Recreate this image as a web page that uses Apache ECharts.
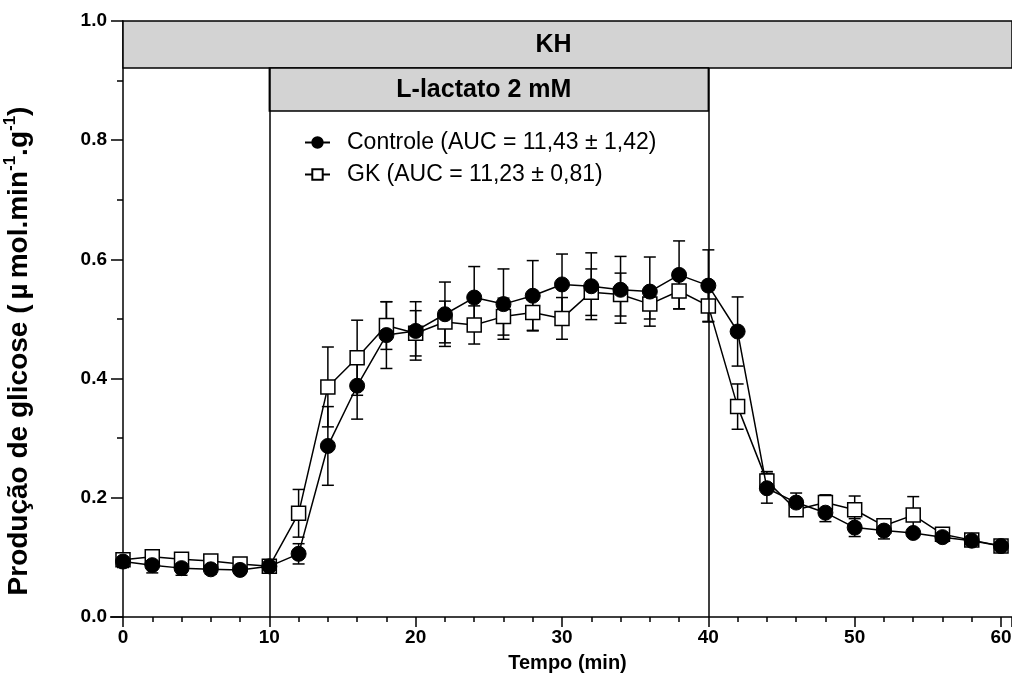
<!DOCTYPE html>
<html>
<head>
<meta charset="utf-8">
<script src="https://cdn.jsdelivr.net/npm/echarts@6/dist/echarts.min.js"></script>
<style>
  html, body { margin: 0; padding: 0; background: #fff; }
  #chart { width: 1012px; height: 691px; }
</style>
</head>
<body>
<div id="chart"></div>
<script>
var times = [0, 2, 4, 6, 8, 10, 12, 14, 16, 18, 20, 22, 24, 26, 28, 30, 32, 34, 36, 38, 40, 42, 44, 46, 48, 50, 52, 54, 56, 58, 60];
var controle = [0.093, 0.087, 0.082, 0.080, 0.079, 0.085, 0.106, 0.287, 0.388, 0.473, 0.480, 0.508, 0.536, 0.525, 0.539, 0.558,
  0.555, 0.549, 0.546, 0.574, 0.556, 0.479, 0.216, 0.192, 0.175, 0.150, 0.145, 0.141, 0.134, 0.128, 0.119];
var controleErr = [0.010, 0.013, 0.012, 0.008, 0.006, 0.008, 0.017, 0.066, 0.056, 0.056, 0.049, 0.054, 0.052, 0.059, 0.059, 0.051,
  0.056, 0.056, 0.058, 0.057, 0.060, 0.058, 0.025, 0.016, 0.015, 0.015, 0.014, 0.007, 0.008, 0.008, 0.008];
var gk = [0.096, 0.101, 0.097, 0.094, 0.089, 0.085, 0.174, 0.386, 0.435, 0.489, 0.476, 0.495, 0.490, 0.504, 0.511, 0.501,
  0.545, 0.541, 0.525, 0.547, 0.522, 0.353, 0.228, 0.180, 0.192, 0.180, 0.153, 0.171, 0.139, 0.129, 0.119];
var gkErr = [0.008, 0.008, 0.008, 0.008, 0.008, 0.006, 0.040, 0.067, 0.063, 0.040, 0.038, 0.035, 0.032, 0.031, 0.030, 0.035,
  0.039, 0.036, 0.025, 0.030, 0.027, 0.038, 0.016, 0.010, 0.013, 0.023, 0.006, 0.031, 0.008, 0.008, 0.008];

var seriesNames = ['Controle (AUC = 11,43 \u00b1 1,42)', 'GK (AUC = 11,23 \u00b1 0,81)'];

// perfusion phases (axis units)
var phaseNames = ['KH', 'L-lactato 2 mM'];
var phaseStart = [0, 10];
var phaseEnd = [60.75, 40];
var phaseTop = [1.0, 0.921];
var phaseBottom = [0.921, 0.849];

var xTicks = [0, 10, 20, 30, 40, 50, 60];
var yTicks = ['0.0', '0.2', '0.4', '0.6', '0.8', '1.0'];

var font = '"Liberation Sans", Arial, sans-serif';

function pairs(ys) {
  return times.map(function(t, i) { return [t, ys[i]]; });
}
function errRows(ys, es) {
  return times.map(function(t, i) { return [t, ys[i] - es[i], ys[i] + es[i]]; });
}

function renderErr(params, api) {
  var lo = api.coord([api.value(0), api.value(1)]);
  var hi = api.coord([api.value(0), api.value(2)]);
  var w = 6;
  var st = { stroke: '#000', lineWidth: 1.5 };
  return {
    type: 'group',
    children: [
      { type: 'line', shape: { x1: lo[0], y1: lo[1], x2: hi[0], y2: hi[1] }, style: st },
      { type: 'line', shape: { x1: lo[0] - w, y1: lo[1], x2: lo[0] + w, y2: lo[1] }, style: st },
      { type: 'line', shape: { x1: hi[0] - w, y1: hi[1], x2: hi[0] + w, y2: hi[1] }, style: st }
    ]
  };
}

var labelShift = [[-14, 1], [-5, 1]];
var areas = phaseNames.map(function(n, i) {
  return [{ name: n, coord: [phaseStart[i], phaseTop[i]], label: { offset: labelShift[i] } },
    { coord: [phaseEnd[i], phaseBottom[i]] }];
});
var vlines = [phaseStart[1], phaseEnd[1]].map(function(x) {
  return [{ coord: [x, 0] }, { coord: [x, phaseBottom[0]] }];
});

var chart = echarts.init(document.getElementById('chart'), null, { renderer: 'canvas' });
chart.setOption({
  animation: false,
  backgroundColor: '#fff',
  textStyle: { fontFamily: font },
  grid: { left: 123, right: 0, top: 21, bottom: 74, containLabel: false, outerBoundsMode: 'none' },
  legend: {
    orient: 'vertical',
    left: 299,
    top: 126,
    itemWidth: 25,
    itemHeight: 13,
    itemGap: 9,
    data: seriesNames,
    textStyle: { fontSize: 23, color: '#000', fontFamily: font, padding: [0, 0, 0, 12] }
  },
  xAxis: {
    type: 'value',
    min: 0,
    max: phaseEnd[0],
    interval: 10,
    name: 'Tempo (min)',
    nameLocation: 'middle',
    nameGap: 36,
    nameTextStyle: { fontSize: 20, fontWeight: 'bold', color: '#000', fontFamily: font },
    axisLine: { onZero: false, lineStyle: { color: '#000', width: 1.5 } },
    axisTick: { length: 10, lineStyle: { color: '#000', width: 1.5 } },
    minorTick: { show: true, splitNumber: 5, length: 5, lineStyle: { color: '#000', width: 1.5 } },
    splitLine: { show: false },
    axisLabel: {
      fontSize: 19, fontWeight: 'bold', color: '#000', margin: 11, showMaxLabel: false,
      formatter: function(v) { return xTicks.indexOf(v) >= 0 ? String(v) : ''; }
    }
  },
  yAxis: {
    type: 'value',
    min: 0,
    max: 1,
    interval: 0.2,
    name: '{b|Produção de glicose (}{m|µ}{b|mol.min}{s|-1}{b|.g}{s|-1}{b|)}',
    nameLocation: 'middle',
    nameGap: 87,
    nameRotate: 90,
    nameTextStyle: {
      padding: [0, 64, 0, 0],
      rich: {
        b: { fontSize: 28, fontWeight: 'bold', color: '#000', fontFamily: font, lineHeight: 34 },
        m: { fontSize: 28, fontWeight: 'bold', color: '#000', fontFamily: font, padding: [0, 5, 0, 5] },
        s: { fontSize: 17, fontWeight: 'bold', color: '#000', fontFamily: font, verticalAlign: 'top' }
      }
    },
    axisLine: { show: true, lineStyle: { color: '#000', width: 1.5 } },
    axisTick: { show: true, length: 12, lineStyle: { color: '#000', width: 1.5 } },
    minorTick: { show: true, splitNumber: 2, length: 6, lineStyle: { color: '#000', width: 1.5 } },
    splitLine: { show: false },
    axisLabel: {
      fontSize: 19, fontWeight: 'bold', color: '#000', margin: 16,
      formatter: function(v) { return yTicks[Math.round(v / 0.2)]; }
    }
  },
  series: [
    {
      type: 'custom',
      renderItem: renderErr,
      data: errRows(gk, gkErr),
      z: 2,
      silent: true
    },
    {
      type: 'custom',
      renderItem: renderErr,
      data: errRows(controle, controleErr),
      z: 2,
      silent: true
    },
    {
      name: seriesNames[1],
      type: 'line',
      data: pairs(gk),
      symbol: 'rect',
      symbolSize: 14,
      lineStyle: { color: '#000', width: 1.5 },
      itemStyle: { color: '#fff', borderColor: '#000', borderWidth: 1.5 },
      z: 3,
      markArea: {
        silent: true,
        itemStyle: { color: '#d3d3d3', borderColor: '#000', borderWidth: 1.5 },
        label: { show: true, position: 'inside', formatter: '{b}', fontSize: 25, fontWeight: 'bold', color: '#000', fontFamily: font },
        data: areas
      },
      markLine: {
        silent: true,
        symbol: 'none',
        label: { show: false },
        lineStyle: { color: '#000', width: 1.5, type: 'solid' },
        data: vlines
      }
    },
    {
      name: seriesNames[0],
      type: 'line',
      data: pairs(controle),
      symbol: 'circle',
      symbolSize: 15,
      lineStyle: { color: '#000', width: 1.5 },
      itemStyle: { color: '#000', borderColor: '#000', borderWidth: 1 },
      z: 4
    }
  ]
});

// short stub of the x axis line left of the y axis, as in the original
var origin = chart.convertToPixel({ gridIndex: 0 }, [0, 0]);
chart.setOption({
  graphic: [{
    type: 'line',
    shape: { x1: origin[0] - 13, y1: origin[1], x2: origin[0], y2: origin[1] },
    style: { stroke: '#000', lineWidth: 1.5 }
  }]
});
window.addEventListener('resize', function() { chart.resize(); });
</script>
</body>
</html>
